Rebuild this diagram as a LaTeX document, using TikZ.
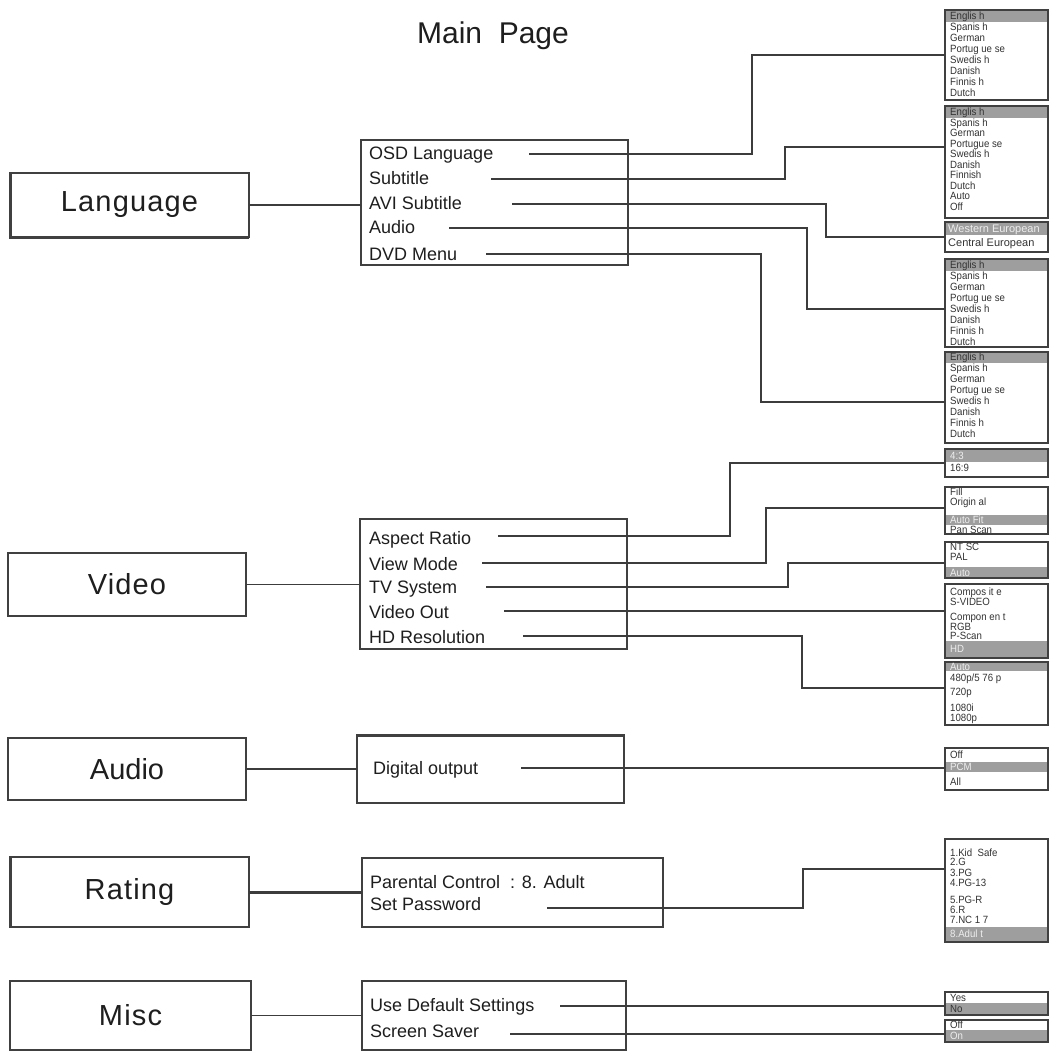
\documentclass[tikz,border=0pt]{standalone}
\usepackage{fontspec}
\setmainfont{Liberation Sans}
\newfontfamily\lblfont[LetterSpace=4]{Liberation Sans}
\newfontfamily\optfont[FakeStretch=0.92]{Liberation Sans}
\usetikzlibrary{calc,backgrounds}
\definecolor{ln}{HTML}{3C3C3C}
\definecolor{bd}{HTML}{404040}
\definecolor{hl}{HTML}{9E9E9E}
\definecolor{tx}{HTML}{1E1E1E}
\definecolor{ot}{HTML}{333333}
\definecolor{otl}{HTML}{EEEEEE}
\tikzset{
  mainbox/.style={draw=bd, line width=1.5pt, anchor=north west, inner sep=0pt, outer sep=0pt,
    font=\lblfont\fontsize{29}{34}\selectfont, text=tx},
  menubox/.style={draw=bd, line width=1.5pt, anchor=north west, inner sep=0pt, outer sep=0pt},
  optbox/.style={draw=bd, line width=2pt, anchor=north west, inner sep=0pt, outer sep=0pt, minimum width=103pt},
  item/.style={anchor=west, inner sep=0pt, font=\fontsize{18}{21}\selectfont, text=tx, text height=13pt, text depth=0pt},
  opt/.style={anchor=west, inner sep=0pt, font=\optfont\fontsize{10.5}{12}\selectfont, text=ot, text height=7.5pt, text depth=0pt},
  optl/.style={opt, text=otl},
  conn/.style={draw=ln, line width=1.7pt},
  band/.style={fill=hl},
}
\begin{document}
\begin{tikzpicture}[x=1pt,y=-1pt]
\useasboundingbox (0,0) rectangle (1054,1051);

% title
\node[font=\fontsize{30}{36}\selectfont, text=tx] (title) at (493,36) {Main\ \ Page};

% main boxes
\node[mainbox, minimum width=239pt, minimum height=64pt] (lang) at (10,173) {Language};
\node[mainbox, minimum width=238pt, minimum height=63pt] (video) at (8,553) {Video};
\node[mainbox, minimum width=238pt, minimum height=62pt, font=\fontsize{29}{34}\selectfont] (audio) at (8,738) {Audio};
\node[mainbox, minimum width=239pt, minimum height=70pt] (rating) at (10,857) {Rating};
\node[mainbox, minimum width=241pt, minimum height=69pt] (misc) at (10,981) {Misc};
\draw[bd, line width=3pt] (lang.north west) -- (lang.south west) -- (lang.south east);
\draw[bd, line width=3pt] (rating.north west) -- (rating.south west);

% sub menus
\node[menubox, minimum width=267pt, minimum height=125pt] (langm) at (361,140) {};
\node[menubox, minimum width=267pt, minimum height=130pt] (videom) at (360,519) {};
\node[menubox, minimum width=267pt, minimum height=68pt] (audiom) at (357,735) {};
\node[menubox, minimum width=301pt, minimum height=69pt] (ratingm) at (362,858) {};
\node[menubox, minimum width=264pt, minimum height=69pt] (miscm) at (362,981) {};
\draw[bd, line width=3pt] (audiom.north west) -- (audiom.north east);

% left connectors
\draw[conn] (lang.east) -- (lang.east -| langm.west);
\draw[conn] (video.east) -- (video.east -| videom.west);
\draw[conn] (audio.east) -- (audio.east -| audiom.west);
\draw[conn, line width=3pt] (rating.east) -- (rating.east -| ratingm.west);
\draw[conn] (misc.east) -- (misc.east -| miscm.west);

% menu items
\node[item] (i1) at (369,153) {OSD Language};
\node[item] (i2) at (369,178) {Subtitle};
\node[item] (i3) at (369,203) {AVI Subtitle};
\node[item] (i4) at (369,227) {Audio};
\node[item] (i5) at (369,254) {DVD Menu};
\node[item] (v1) at (369,538) {Aspect Ratio};
\node[item] (v2) at (369,564) {View Mode};
\node[item] (v3) at (369,587) {TV System};
\node[item] (v4) at (369,612) {Video Out};
\node[item] (v5) at (369,637) {HD Resolution};
\node[item] (a1) at (373,768) {Digital output};
\node[item] (p1) at (370,882) {Parental Control\ \ : 8. Adult};
\node[item] (p2) at (370,904) {Set Password};
\node[item] (m1) at (370,1005) {Use Default Settings};
\node[item] (m2) at (370,1031) {Screen Saver};

% option boxes
\node[optbox, minimum height=90pt] (r1) at (945,10) {};
\node[optbox, minimum height=112pt] (r2) at (945,106) {};
\node[optbox, minimum height=30pt] (r3) at (945,222) {};
\node[optbox, minimum height=88pt] (r4) at (945,259) {};
\node[optbox, minimum height=91pt] (r5) at (945,352) {};
\node[optbox, minimum height=28pt] (r6) at (945,449) {};
\node[optbox, minimum height=47pt] (r7) at (945,487) {};
\node[optbox, minimum height=36pt] (r8) at (945,542) {};
\node[optbox, minimum height=74pt] (r9) at (945,584) {};
\node[optbox, minimum height=63pt] (r10) at (945,662) {};
\node[optbox, minimum height=42pt] (r11) at (945,748) {};
\node[optbox, minimum height=103pt] (r12) at (945,839) {};
\node[optbox, minimum height=23pt] (r13) at (945,992) {};
\node[optbox, minimum height=22pt] (r14) at (945,1020) {};

% highlight bands
\begin{scope}[on background layer]
\fill[white] (0,0) rectangle (1054,1051);
\fill[band] (945,10) rectangle (1048,22);
\fill[band] (945,106) rectangle (1048,118);
\fill[band] (945,222) rectangle (1048,235);
\fill[band] (945,259) rectangle (1048,271);
\fill[band] (945,352) rectangle (1048,363);
\fill[band] (945,449) rectangle (1048,462);
\fill[band] (945,515) rectangle (1048,525);
\fill[band] (945,567) rectangle (1048,578);
\fill[band] (945,641) rectangle (1048,658);
\fill[band] (945,662) rectangle (1048,671);
\fill[band] (945,762) rectangle (1048,772);
\fill[band] (945,927) rectangle (1048,942);
\fill[band] (945,1003) rectangle (1048,1015);
\fill[band] (945,1030) rectangle (1048,1042);
\end{scope}

% option texts
\foreach \yy/\lbl [count=\i] in {16/Englis h, 27/Spanis h, 38/German, 49/Portug ue se, 60/Swedis h, 71/Danish, 82/Finnis h, 93/Dutch}
  \node[opt] (r1t\i) at (950,\yy) {\lbl};
\foreach \yy/\lbl [count=\i] in {112/Englis h, 122.5/Spanis h, 133/German, 143.5/Portugue se, 154/Swedis h, 164.5/Danish, 175/Finnish, 185.5/Dutch, 196/Auto, 206.5/Off}
  \node[opt] (r2t\i) at (950,\yy) {\lbl};
\node[optl, font=\fontsize{11}{13}\selectfont] (r3t1) at (948,229) {Western European};
\node[opt, font=\fontsize{11}{13}\selectfont] (r3t2) at (948,243) {Central European};
\foreach \yy/\lbl [count=\i] in {265/Englis h, 276/Spanis h, 287/German, 298/Portug ue se, 309/Swedis h, 320/Danish, 331/Finnis h, 342/Dutch}
  \node[opt] (r4t\i) at (950,\yy) {\lbl};
\foreach \yy/\lbl [count=\i] in {357/Englis h, 368/Spanis h, 379/German, 390/Portug ue se, 401/Swedis h, 412/Danish, 423/Finnis h, 434/Dutch}
  \node[opt] (r5t\i) at (950,\yy) {\lbl};
\node[optl] (r6t1) at (950,456) {4:3};
\node[opt] (r6t2) at (950,468) {16:9};
\node[opt] (r7t1) at (950,492) {Fill};
\node[opt] (r7t2) at (950,502) {Origin al};
\node[optl] (r7t3) at (950,520) {Auto Fit};
\node[opt] (r7t4) at (950,530) {Pan Scan};
\node[opt] (r8t1) at (950,547) {NT SC};
\node[opt] (r8t2) at (950,557) {PAL};
\node[optl] (r8t3) at (950,573) {Auto};
\foreach \yy/\lbl [count=\i] in {592/Compos it e, 602/S-VIDEO, 617/Compon en t, 627/RGB, 636/P-Scan}
  \node[opt] (r9t\i) at (950,\yy) {\lbl};
\node[optl] (r9t6) at (950,649) {HD};
\node[optl] (r10t1) at (950,667) {Auto};
\node[opt] (r10t2) at (950,678) {480p/5 76 p};
\node[opt] (r10t3) at (950,692) {720p};
\node[opt] (r10t4) at (950,708) {1080i};
\node[opt] (r10t5) at (950,718) {1080p};
\node[opt] (r11t1) at (950,755) {Off};
\node[optl] (r11t2) at (950,767) {PCM};
\node[opt] (r11t3) at (950,782) {All};
\foreach \yy/\lbl [count=\i] in {853/1.Kid~~Safe, 862/2.G, 873/3.PG, 883/4.PG-13, 900/5.PG-R, 910/6.R, 920/7.NC 1 7}
  \node[opt] (r12t\i) at (950,\yy) {\lbl};
\node[optl] (r12t8) at (950,934) {8.Adul t};
\node[opt] (r13t1) at (950,998) {Yes};
\node[opt] (r13t2) at (950,1009) {No};
\node[opt] (r14t1) at (950,1025) {Off};
\node[optl] (r14t2) at (950,1036) {On};

% connector start points
\coordinate (osdS) at (529,154);
\coordinate (subS) at (491,179);
\coordinate (aviS) at (512,204);
\coordinate (audS) at (449,228);
\coordinate (dvdS) at (486,254);
\coordinate (aspS) at (498,536);
\coordinate (viewS) at (482,563);
\coordinate (tvS) at (486,587);
\coordinate (voS) at (504,611);
\coordinate (hdS) at (523,636);
\coordinate (digS) at (521,768);
\coordinate (pwS) at (547,908);
\coordinate (udsS) at (560,1006);
\coordinate (ssS) at (510,1034);

% connectors
\draw[conn] (osdS) -- ++(223,0) |- (r1.west);
\draw[conn] (subS) -- ++(294,0) |- ($(r2.north west)+(0,41)$);
\draw[conn] (aviS) -- ++(314,0) |- (r3.west);
\draw[conn] (audS) -- ++(358,0) |- ($(r4.north west)+(0,50)$);
\draw[conn] (dvdS) -- ++(275,0) |- ($(r5.north west)+(0,50)$);
\draw[conn] (aspS) -- ++(232,0) |- (r6.west);
\draw[conn] (viewS) -- ++(284,0) |- ($(r7.north west)+(0,21)$);
\draw[conn] (tvS) -- ++(302,0) |- ($(r8.north west)+(0,21)$);
\draw[conn] (voS) -- (voS -| r9.west);
\draw[conn] (hdS) -- ++(279,0) |- ($(r10.north west)+(0,26)$);
\draw[conn] (digS) -- (digS -| r11.west);
\draw[conn] (pwS) -- ++(256,0) |- ($(r12.north west)+(0,30)$);
\draw[conn] (udsS) -- (udsS -| r13.west);
\draw[conn] (ssS) -- (ssS -| r14.west);
\end{tikzpicture}
\end{document}
